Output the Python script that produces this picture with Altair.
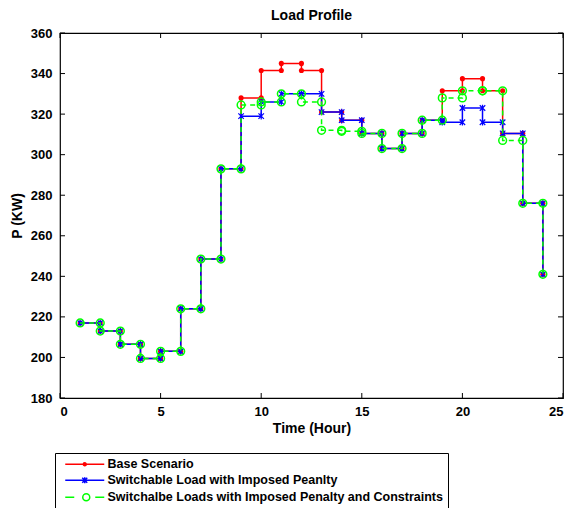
import altair as alt
import pandas as pd

# ---- data ----
hours = list(range(1, 25))
base = [217, 213, 206.5, 199.5, 203, 224, 248.5, 293, 328, 341.5, 345, 341.5,
        321, 317, 310.5, 303, 310.5, 317, 331.5, 337.5, 331.5, 310.5, 276, 241]
switchable = [217, 213, 206.5, 199.5, 203, 224, 248.5, 293, 319, 326, 330, 330,
              321, 317, 310.5, 303, 310.5, 317, 316, 323, 316, 310.5, 276, 241]
constrained = [217, 213, 206.5, 199.5, 203, 224, 248.5, 293, 324.5, 326, 330, 326,
               312, 311.5, 310.5, 303, 310.5, 317, 328, 331.5, 331.5, 307, 276, 241]
series_names = ["Base Scenario",
                "Switchable Load with Imposed Peanlty",
                "Switchalbe Loads with Imposed Penalty and Constraints"]
series_colors = ["#ff0000", "#0000ff", "#00ff00"]
x_ticks = [0, 5, 10, 15, 20, 25]
y_ticks = [180, 200, 220, 240, 260, 280, 300, 320, 340, 360]

FONT = "Liberation Sans"
W, H = 503, 365

rows, marks = [], []
for name, vals in zip(series_names, [base, switchable, constrained]):
    for h, v in zip(hours, vals):
        rows.append({"series": name, "hour": h, "P": v})
        marks.append({"series": name, "hour": h, "P": v})
    # stair corners at the right end of every step
    for h, v in zip(hours[1:], vals[:-1]):
        marks.append({"series": name, "hour": h, "P": v})
line_df = pd.DataFrame(rows)
mark_df = pd.DataFrame(marks)
xt_df = pd.DataFrame({"hour": x_ticks})
yt_df = pd.DataFrame({"P": y_ticks})

x_enc = alt.X("hour:Q", scale=alt.Scale(domain=[0, 25], nice=False),
              axis=alt.Axis(values=x_ticks, title="Time (Hour)", labelPadding=7,
                            titlePadding=3))
y_enc = alt.Y("P:Q", scale=alt.Scale(domain=[180, 360], nice=False, zero=False),
              axis=alt.Axis(values=y_ticks, title="P (KW)", labelPadding=8,
                            titlePadding=6))

layers = []
for name, col in zip(series_names, series_colors):
    dash = [5, 4] if col == "#00ff00" else [1, 0]
    layers.append(
        alt.Chart(line_df).transform_filter(alt.datum.series == name)
        .mark_line(interpolate="step-after", color=col, strokeWidth=1.5, strokeDash=dash)
        .encode(x=x_enc, y=y_enc)
    )
    base_pts = alt.Chart(mark_df).transform_filter(alt.datum.series == name)
    if col == "#ff0000":
        pm = base_pts.mark_point(shape="circle", filled=True, color=col, size=26, opacity=1)
    elif col == "#0000ff":
        pm = base_pts.mark_point(shape="M-1,-1L1,1M-1,1L1,-1M0,-1.2L0,1.2", filled=False,
                                 color=col, size=30, strokeWidth=1.2, opacity=1)
    else:
        pm = base_pts.mark_point(shape="circle", filled=False, color=col, size=60,
                                 strokeWidth=1.5, opacity=1)
    layers.append(pm.encode(x=x_enc, y=y_enc))

# inward ticks on all four sides
layers += [
    alt.Chart(xt_df).mark_rule(color="black", strokeWidth=1).encode(
        x=x_enc, y=alt.value(H), y2=alt.value(H - 5)),
    alt.Chart(xt_df).mark_rule(color="black", strokeWidth=1).encode(
        x=x_enc, y=alt.value(0), y2=alt.value(5)),
    alt.Chart(yt_df).mark_rule(color="black", strokeWidth=1).encode(
        y=y_enc, x=alt.value(0), x2=alt.value(5)),
    alt.Chart(yt_df).mark_rule(color="black", strokeWidth=1).encode(
        y=y_enc, x=alt.value(W), x2=alt.value(W - 5)),
]

# legend glyphs: line + marker
legend_shapes = [
    "M-0.2,0H7.6M3.4,0A0.3,0.3 0 1,0 4.0,0A0.3,0.3 0 1,0 3.4,0"
    "M3.56,0A0.14,0.14 0 1,0 3.84,0A0.14,0.14 0 1,0 3.56,0",
    "M-0.2,0H7.6M3.2,-0.5L4.2,0.5M3.2,0.5L4.2,-0.5M3.7,-0.6L3.7,0.6",
    "M-0.2,0H1.6M5.8,0H7.6M3.3,0A0.7,0.7 0 1,0 4.7,0A0.7,0.7 0 1,0 3.3,0",
]
leg = alt.Legend(title=None, orient="none", legendX=-5, legendY=420,
                 direction="vertical", strokeColor="black", fillColor="white",
                 padding=5, symbolSize=100, symbolStrokeWidth=1.5,
                 labelFont=FONT, labelFontWeight="bold", labelFontSize=12.5,
                 labelColor="black", rowPadding=3, labelOffset=35, labelLimit=600)
layers.append(
    alt.Chart(line_df).transform_filter("false").mark_point(strokeWidth=1.5, opacity=1)
    .encode(
        x=x_enc, y=y_enc,
        color=alt.Color("series:N", scale=alt.Scale(domain=series_names, range=series_colors),
                        legend=leg),
        shape=alt.Shape("series:N", scale=alt.Scale(domain=series_names, range=legend_shapes),
                        legend=leg),
    )
)

chart = alt.layer(*layers).properties(
    width=W, height=H,
    title=alt.TitleParams("Load Profile", font=FONT, fontSize=14, fontWeight="bold",
                          color="black", offset=4),
    autosize=alt.AutoSizeParams(type="none"),
    padding={"left": 60, "top": 33, "right": 9, "bottom": 110},
).configure_view(stroke="black", strokeWidth=1.2).configure_axis(
    grid=False, ticks=False, domain=False,
    labelFont=FONT, labelFontSize=13, labelFontWeight="bold", labelColor="black",
    titleFont=FONT, titleFontSize=14, titleFontWeight="bold", titleColor="black",
)

chart.save("out.html", embed_options={"renderer": "svg", "actions": False})
